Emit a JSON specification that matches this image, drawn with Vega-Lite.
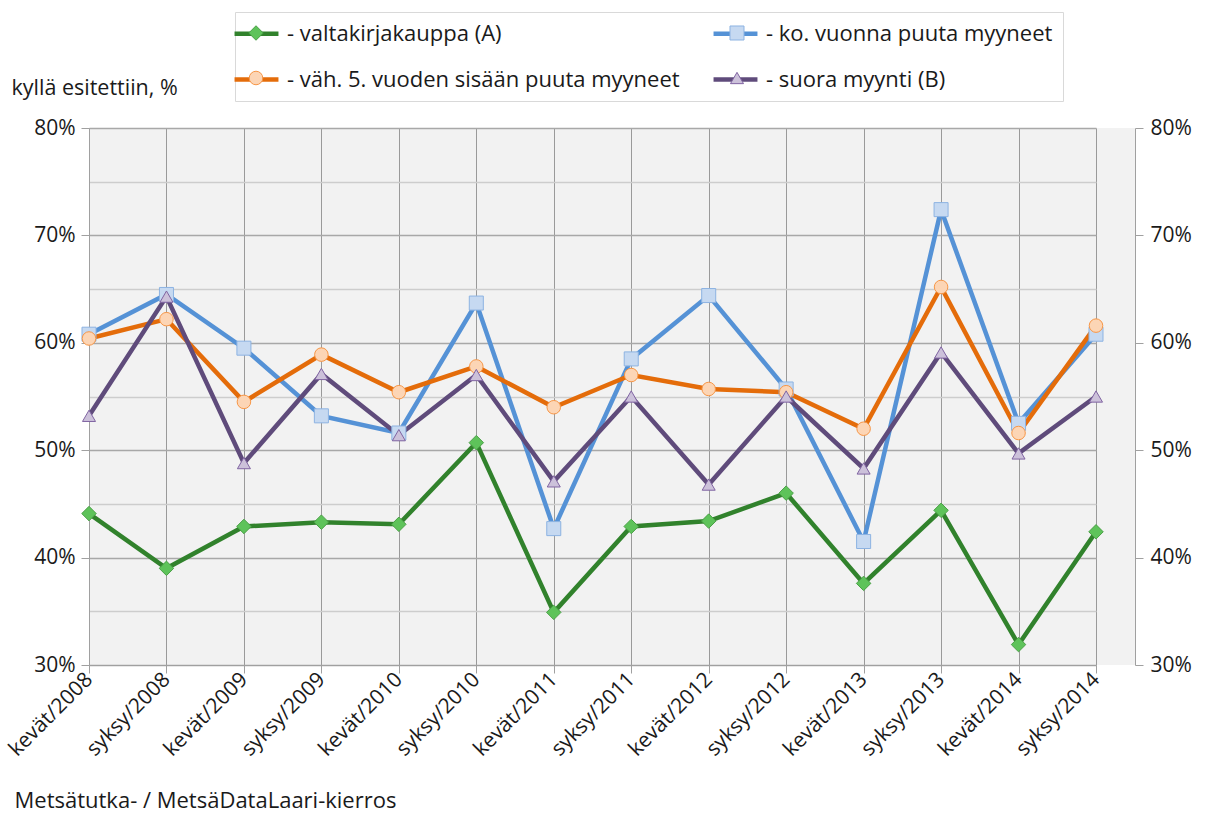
{
  "$schema": "https://vega.github.io/schema/vega-lite/v6.json",
  "width": 1046,
  "height": 537,
  "autosize": {"type": "none"},
  "padding": {"left": 89, "top": 128, "right": 83, "bottom": 152},
  "background": "white",
  "config": {
    "view": {"fill": "#f2f2f2", "stroke": null},
    "font": "Open Sans",
    "axis": {"labelFont": "Open Sans", "titleFont": "Open Sans", "labelColor": "#1a1a1a", "titleColor": "#1a1a1a", "titleFontWeight": "normal", "domainColor": "#a0a0a0", "tickColor": "#a0a0a0"}
  },
  "data": {
    "values": [
      {"period": "kevät/2008", "series": "- valtakirjakauppa (A)", "value": 44.1},
      {"period": "syksy/2008", "series": "- valtakirjakauppa (A)", "value": 39.0},
      {"period": "kevät/2009", "series": "- valtakirjakauppa (A)", "value": 42.9},
      {"period": "syksy/2009", "series": "- valtakirjakauppa (A)", "value": 43.3},
      {"period": "kevät/2010", "series": "- valtakirjakauppa (A)", "value": 43.1},
      {"period": "syksy/2010", "series": "- valtakirjakauppa (A)", "value": 50.7},
      {"period": "kevät/2011", "series": "- valtakirjakauppa (A)", "value": 34.9},
      {"period": "syksy/2011", "series": "- valtakirjakauppa (A)", "value": 42.9},
      {"period": "kevät/2012", "series": "- valtakirjakauppa (A)", "value": 43.4},
      {"period": "syksy/2012", "series": "- valtakirjakauppa (A)", "value": 46.0},
      {"period": "kevät/2013", "series": "- valtakirjakauppa (A)", "value": 37.6},
      {"period": "syksy/2013", "series": "- valtakirjakauppa (A)", "value": 44.4},
      {"period": "kevät/2014", "series": "- valtakirjakauppa (A)", "value": 31.9},
      {"period": "syksy/2014", "series": "- valtakirjakauppa (A)", "value": 42.4},
      {"period": "kevät/2008", "series": "- ko. vuonna puuta myyneet", "value": 60.8},
      {"period": "syksy/2008", "series": "- ko. vuonna puuta myyneet", "value": 64.5},
      {"period": "kevät/2009", "series": "- ko. vuonna puuta myyneet", "value": 59.5},
      {"period": "syksy/2009", "series": "- ko. vuonna puuta myyneet", "value": 53.2},
      {"period": "kevät/2010", "series": "- ko. vuonna puuta myyneet", "value": 51.6},
      {"period": "syksy/2010", "series": "- ko. vuonna puuta myyneet", "value": 63.7},
      {"period": "kevät/2011", "series": "- ko. vuonna puuta myyneet", "value": 42.7},
      {"period": "syksy/2011", "series": "- ko. vuonna puuta myyneet", "value": 58.5},
      {"period": "kevät/2012", "series": "- ko. vuonna puuta myyneet", "value": 64.4},
      {"period": "syksy/2012", "series": "- ko. vuonna puuta myyneet", "value": 55.7},
      {"period": "kevät/2013", "series": "- ko. vuonna puuta myyneet", "value": 41.5},
      {"period": "syksy/2013", "series": "- ko. vuonna puuta myyneet", "value": 72.4},
      {"period": "kevät/2014", "series": "- ko. vuonna puuta myyneet", "value": 52.5},
      {"period": "syksy/2014", "series": "- ko. vuonna puuta myyneet", "value": 60.8},
      {"period": "kevät/2008", "series": "- väh. 5. vuoden sisään puuta myyneet", "value": 60.4},
      {"period": "syksy/2008", "series": "- väh. 5. vuoden sisään puuta myyneet", "value": 62.2},
      {"period": "kevät/2009", "series": "- väh. 5. vuoden sisään puuta myyneet", "value": 54.5},
      {"period": "syksy/2009", "series": "- väh. 5. vuoden sisään puuta myyneet", "value": 58.9},
      {"period": "kevät/2010", "series": "- väh. 5. vuoden sisään puuta myyneet", "value": 55.4},
      {"period": "syksy/2010", "series": "- väh. 5. vuoden sisään puuta myyneet", "value": 57.8},
      {"period": "kevät/2011", "series": "- väh. 5. vuoden sisään puuta myyneet", "value": 54.0},
      {"period": "syksy/2011", "series": "- väh. 5. vuoden sisään puuta myyneet", "value": 57.0},
      {"period": "kevät/2012", "series": "- väh. 5. vuoden sisään puuta myyneet", "value": 55.7},
      {"period": "syksy/2012", "series": "- väh. 5. vuoden sisään puuta myyneet", "value": 55.4},
      {"period": "kevät/2013", "series": "- väh. 5. vuoden sisään puuta myyneet", "value": 52.0},
      {"period": "syksy/2013", "series": "- väh. 5. vuoden sisään puuta myyneet", "value": 65.2},
      {"period": "kevät/2014", "series": "- väh. 5. vuoden sisään puuta myyneet", "value": 51.6},
      {"period": "syksy/2014", "series": "- väh. 5. vuoden sisään puuta myyneet", "value": 61.6},
      {"period": "kevät/2008", "series": "- suora myynti (B)", "value": 53.2},
      {"period": "syksy/2008", "series": "- suora myynti (B)", "value": 64.3},
      {"period": "kevät/2009", "series": "- suora myynti (B)", "value": 48.8},
      {"period": "syksy/2009", "series": "- suora myynti (B)", "value": 57.1},
      {"period": "kevät/2010", "series": "- suora myynti (B)", "value": 51.4},
      {"period": "syksy/2010", "series": "- suora myynti (B)", "value": 57.0},
      {"period": "kevät/2011", "series": "- suora myynti (B)", "value": 47.1},
      {"period": "syksy/2011", "series": "- suora myynti (B)", "value": 55.0},
      {"period": "kevät/2012", "series": "- suora myynti (B)", "value": 46.8},
      {"period": "syksy/2012", "series": "- suora myynti (B)", "value": 55.0},
      {"period": "kevät/2013", "series": "- suora myynti (B)", "value": 48.3},
      {"period": "syksy/2013", "series": "- suora myynti (B)", "value": 59.1},
      {"period": "kevät/2014", "series": "- suora myynti (B)", "value": 49.7},
      {"period": "syksy/2014", "series": "- suora myynti (B)", "value": 55.0}
    ]
  },
  "encoding": {
    "x": {
      "field": "period",
      "type": "ordinal",
      "sort": null,
      "scale": {"type": "point", "range": [0, 1007], "padding": 0},
      "axis": {
        "orient": "bottom",
        "grid": true,
        "gridColor": "#9a9a9a",
        "gridWidth": 1,
        "labelAngle": -45,
        "labelAlign": "right",
        "labelBaseline": "middle",
        "labelFontSize": 21,
        "labelPadding": 3,
        "tickSize": 8,
        "title": "Metsätutka- / MetsäDataLaari-kierros",
        "titleFontSize": 22,
        "titleX": -75,
        "titleY": 135,
        "titleAlign": "left",
        "titleBaseline": "middle",
        "titleAnchor": "start"
      }
    }
  },
  "layer": [
    {
      "mark": {"type": "line", "strokeWidth": 4.5},
      "encoding": {
        "y": {
          "field": "value",
          "type": "quantitative",
          "scale": {"domain": [30, 80], "nice": false, "zero": false},
          "axis": {
            "orient": "left",
            "values": [30, 35, 40, 45, 50, 55, 60, 65, 70, 75, 80],
            "labelExpr": "datum.value % 10 == 0 ? datum.value + '%' : ''",
            "labelFontSize": 21,
            "labelPadding": 6,
            "tickSize": 8,
            "tickOpacity": {"condition": {"test": "datum.value % 10 != 0", "value": 0}, "value": 1},
            "grid": true,
            "gridColor": {"condition": {"test": "datum.value % 10 != 0", "value": "#cdcdcd"}, "value": "#a8a8a8"},
            "gridWidth": 1.5,
            "title": "kyllä esitettiin, %",
            "titleAngle": 0,
            "titleFontSize": 21.5,
            "titleX": -78,
            "titleY": -40,
            "titleAlign": "left",
            "titleBaseline": "middle"
          }
        },
        "color": {
          "field": "series",
          "type": "nominal",
          "sort": ["- valtakirjakauppa (A)", "- ko. vuonna puuta myyneet", "- väh. 5. vuoden sisään puuta myyneet", "- suora myynti (B)"],
          "scale": {"range": ["#31822c", "#5592d6", "#e46c0a", "#5f4b7b"]},
          "legend": {
            "orient": "none",
            "legendX": 146,
            "legendY": -116,
            "direction": "horizontal",
            "columns": 2,
            "gridAlign": "all",
            "title": null,
            "symbolType": "M-2.44,0H2.44",
            "symbolSize": 324,
            "symbolStrokeWidth": 4.5,
            "labelFontSize": 22,
            "labelFont": "Open Sans",
            "labelColor": "#1a1a1a",
            "labelOffset": 19,
            "labelLimit": 700,
            "rowPadding": 23,
            "columnPadding": 24,
            "padding": 10,
            "fillColor": "white",
            "strokeColor": "#d9d9d9"
          }
        }
      }
    },
    {
      "mark": {"type": "point", "filled": true, "strokeWidth": 1, "opacity": 1},
      "encoding": {
        "y": {
          "field": "value",
          "type": "quantitative",
          "scale": {"domain": [30, 80], "nice": false, "zero": false},
          "axis": {
            "orient": "right",
            "values": [30, 40, 50, 60, 70, 80],
            "labelExpr": "datum.value + '%'",
            "labelFontSize": 21,
            "labelPadding": 7,
            "tickSize": 8,
            "grid": false,
            "title": null
          }
        },
        "fill": {
          "field": "series",
          "type": "nominal",
          "scale": {
            "domain": ["- valtakirjakauppa (A)", "- ko. vuonna puuta myyneet", "- väh. 5. vuoden sisään puuta myyneet", "- suora myynti (B)"],
            "range": ["#5ec35a", "#c6d9f1", "#fcd5b5", "#ccc1da"]
          },
          "legend": {
            "orient": "none",
            "legendX": 146,
            "legendY": -116,
            "direction": "horizontal",
            "columns": 2,
            "gridAlign": "all",
            "title": null,
            "symbolStrokeWidth": 1,
            "labelFontSize": 22,
            "labelFont": "Open Sans",
            "labelExpr": "''",
            "labelOffset": 16,
            "rowPadding": 23,
            "columnPadding": 443,
            "padding": 10
          }
        },
        "stroke": {
          "field": "series",
          "type": "nominal",
          "scale": {
            "domain": ["- valtakirjakauppa (A)", "- ko. vuonna puuta myyneet", "- väh. 5. vuoden sisään puuta myyneet", "- suora myynti (B)"],
            "range": ["#4aa046", "#8db3e2", "#f79646", "#8064a2"]
          }
        },
        "shape": {
          "field": "series",
          "type": "nominal",
          "scale": {
            "domain": ["- valtakirjakauppa (A)", "- ko. vuonna puuta myyneet", "- väh. 5. vuoden sisään puuta myyneet", "- suora myynti (B)"],
            "range": ["diamond", "square", "circle", "triangle-up"]
          }
        },
        "size": {
          "field": "series",
          "type": "nominal",
          "scale": {
            "domain": ["- valtakirjakauppa (A)", "- ko. vuonna puuta myyneet", "- väh. 5. vuoden sisään puuta myyneet", "- suora myynti (B)"],
            "range": [210, 170, 210, 324]
          }
        }
      }
    }
  ],
  "resolve": {"scale": {"y": "independent"}, "axis": {"y": "independent"}}
}
